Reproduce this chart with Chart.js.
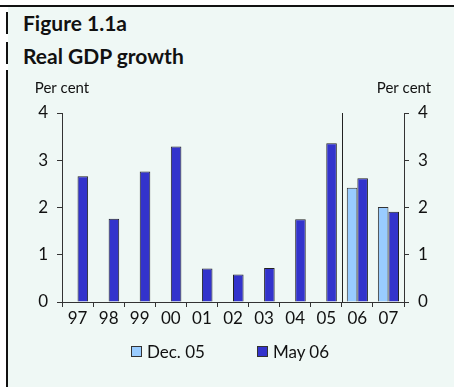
<!DOCTYPE html>
<html>
<head>
<meta charset="utf-8">
<script src="https://cdn.jsdelivr.net/npm/chart.js@4.4.0/dist/chart.umd.min.js"></script>
<style>
    html, body {
        margin: 0;
        padding: 0;
        background: #ffffff;
    }
    .page {
        position: relative;
        width: 454px;
        height: 387px;
        overflow: hidden;
        font-family: Lato, "Open Sans", sans-serif;
        color: #111;
    }
    .panel {
        position: absolute;
        left: 8px;
        top: 7px;
        right: 0;
        bottom: 0;
        background: #eff8f5;
    }
    .topline {
        position: absolute;
        left: 0;
        top: 5px;
        width: 454px;
        height: 2px;
        background: #111;
    }
    .sidebar {
        position: absolute;
        left: 6px;
        width: 2px;
        background: #111;
    }
    .title {
        position: absolute;
        left: 23px;
        font-weight: bold;
        font-size: 21px;
        line-height: 24px;
    }
    #chartWrap {
        position: absolute;
        left: 0;
        top: 0;
        width: 454px;
        height: 387px;
    }
    #legend {
        position: absolute;
        top: 341px;
        left: 0;
        width: 454px;
        display: flex;
        justify-content: center;
        gap: 52px;
        font-size: 17px;
        padding-left: 6px;
        box-sizing: border-box;
    }
    #legend .item {
        display: flex;
        align-items: center;
    }
    #legend .box {
        width: 9px;
        height: 9px;
        border: 1px solid #333;
        margin-right: 5px;
    }
</style>
</head>
<body>
<div class="page">
    <div class="panel"></div>
    <div class="topline"></div>
    <div class="sidebar" style="top: 12px; height: 22px;"></div>
    <div class="sidebar" style="top: 42px; height: 22px;"></div>
    <div class="sidebar" style="top: 70px; height: 317px;"></div>
    <div class="title" style="top: 11px;">Figure 1.1a</div>
    <div class="title" style="top: 44px;">Real GDP growth</div>
    <div id="chartWrap"><canvas id="gdpChart" width="454" height="387"></canvas></div>
    <div id="legend"></div>
</div>

<script>
// Chart data
const years = ['97', '98', '99', '00', '01', '02', '03', '04', '05', '06', '07'];
const dec05 = [null, null, null, null, null, null, null, null, null, 2.42, 2.01];
const may06 = [2.66, 1.76, 2.76, 3.29, 0.71, 0.58, 0.72, 1.75, 3.36, 2.62, 1.91];
const yTicks = [0, 1, 2, 3, 4];
const forecastStart = 9; // index of first forecast year (06)

const AXIS_COLOR = '#333333';
const FONT = 'Lato, "Open Sans", sans-serif';

// Thin line between actual and forecast years + "Per cent" labels
const extrasPlugin = {
    id: 'extras',
    afterDatasetsDraw(chart) {
        const { ctx, chartArea, scales } = chart;
        const x = (scales.x.getPixelForValue(forecastStart - 1) + scales.x.getPixelForValue(forecastStart)) / 2;
        ctx.save();
        ctx.strokeStyle = '#222';
        ctx.lineWidth = 1;
        ctx.beginPath();
        ctx.moveTo(Math.round(x) + 0.5, chartArea.top);
        ctx.lineTo(Math.round(x) + 0.5, chartArea.bottom);
        ctx.stroke();

        ctx.fillStyle = '#111';
        ctx.font = '15px ' + FONT;
        ctx.textAlign = 'center';
        ctx.textBaseline = 'alphabetic';
        ctx.fillText('Per cent', chartArea.left, chartArea.top - 20);
        ctx.fillText('Per cent', chartArea.right, chartArea.top - 20);
        ctx.restore();
    }
};

function yScale(position, width) {
    return {
        position: position,
        min: 0,
        max: 4,
        afterBuildTicks: function(scale) {
            scale.ticks = yTicks.map(v => ({ value: v }));
        },
        afterFit: function(scale) {
            scale.width = width;
        },
        grid: {
            drawOnChartArea: false,
            tickLength: 5,
            color: AXIS_COLOR
        },
        border: { color: AXIS_COLOR },
        ticks: {
            padding: 9,
            color: '#111',
            font: { family: FONT, size: 17 }
        }
    };
}

function initializeGdpChart() {
    const ctx = document.getElementById('gdpChart');
    if (!ctx) return;

    const chart = new Chart(ctx, {
        type: 'bar',
        data: {
            labels: years,
            datasets: [{
                label: 'Dec. 05',
                data: dec05,
                backgroundColor: '#99ccff',
                borderColor: '#333',
                borderWidth: 1,
                yAxisID: 'y'
            }, {
                label: 'May 06',
                data: may06,
                backgroundColor: '#3333cc',
                borderColor: '#222',
                borderWidth: 1,
                yAxisID: 'y'
            }]
        },
        options: {
            responsive: false,
            animation: false,
            devicePixelRatio: 1,
            categoryPercentage: 0.68,
            barPercentage: 1.0,
            layout: {
                padding: { left: 8, right: 0, top: 113, bottom: 59 }
            },
            plugins: {
                legend: { display: false },
                tooltip: { enabled: false }
            },
            scales: {
                x: {
                    afterFit: function(scale) {
                        scale.height = 26;
                    },
                    grid: {
                        offset: true,
                        drawOnChartArea: false,
                        tickLength: 5,
                        color: AXIS_COLOR
                    },
                    border: { color: AXIS_COLOR },
                    ticks: {
                        padding: 1,
                        color: '#111',
                        font: { family: FONT, size: 17 }
                    }
                },
                y: yScale('left', 54),
                y2: yScale('right', 50)
            }
        },
        plugins: [extrasPlugin]
    });

    buildLegend(chart);
}

// Legend drawn in HTML from the chart's datasets
function buildLegend(chart) {
    const legend = document.getElementById('legend');
    chart.data.datasets.forEach(ds => {
        const item = document.createElement('div');
        item.className = 'item';
        const box = document.createElement('span');
        box.className = 'box';
        box.style.background = ds.backgroundColor;
        item.appendChild(box);
        item.appendChild(document.createTextNode(ds.label));
        legend.appendChild(item);
    });
}

document.addEventListener('DOMContentLoaded', initializeGdpChart);
</script>
</body>
</html>
